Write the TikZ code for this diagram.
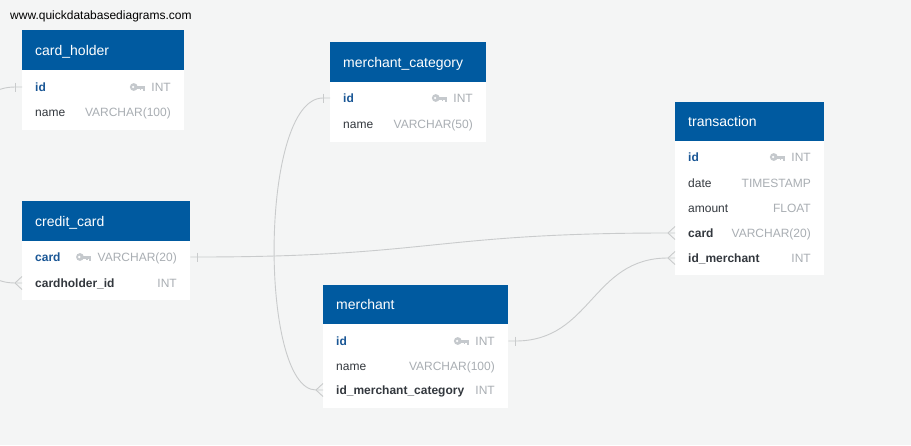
\documentclass[tikz,border=0pt]{standalone}
\usepackage{fontspec}
\setmainfont{Liberation Sans}
\usetikzlibrary{calc}
\definecolor{bgc}{HTML}{F4F5F5}
\definecolor{hdrc}{HTML}{005AA0}
\definecolor{pkc}{HTML}{1A5796}
\definecolor{fldc}{HTML}{33383E}
\definecolor{typc}{HTML}{A9AEB3}
\definecolor{keyc}{HTML}{C5C9CD}
\definecolor{relc}{HTML}{C9CBCC}
\tikzset{
  hdrbox/.style={fill=hdrc, draw=none, inner sep=0pt, anchor=north west},
  bodybox/.style={fill=white, draw=none, inner sep=0pt, anchor=north west},
  hdrtxt/.style={anchor=west, inner sep=0pt, text=white, font=\fontsize{14}{16}\selectfont, text height=10pt, text depth=0pt},
  fname/.style={anchor=west, inner sep=0pt, text=fldc, font=\fontsize{12}{14}\selectfont, text height=8.6pt, text depth=0pt},
  pkname/.style={fname, text=pkc, font=\fontsize{12}{14}\selectfont\bfseries},
  fkname/.style={fname, font=\fontsize{12}{14}\selectfont\bfseries},
  ftype/.style={anchor=east, inner sep=0pt, text=typc, font=\fontsize{12}{14}\selectfont, text height=8.6pt, text depth=0pt},
  rel/.style={draw=relc, line width=0.9pt},
  keyicon/.pic={
    \fill[keyc] (-11.5,0) circle (3.9);
    \fill[keyc] (-9,-1.5) rectangle (0,1.5);
    \fill[keyc] (-2.6,1.5) rectangle (-0.4,3.5);
    \fill[keyc] (-5.6,1.5) rectangle (-3.8,3.0);
    \fill[white] (-12.2,0) circle (1.3);
  }
}
\begin{document}
\begin{tikzpicture}[x=1pt,y=-1pt]
\useasboundingbox (0,0) rectangle (911,445);
\fill[bgc] (0,0) rectangle (911,445);

\node[anchor=west, inner sep=0pt, font=\fontsize{12}{14}\selectfont, text height=8.6pt, text depth=0pt] (site) at (10,15.5) {www.quickdatabasediagrams.com};

% card_holder
\node[hdrbox, minimum width=162pt, minimum height=40pt] (ch-h) at (22,30) {};
\node[bodybox, minimum width=162pt, minimum height=60pt] (ch-b) at (22,70) {};
\node[hdrtxt] (ch-title) at (35,50) {card\_holder};
\node[pkname] (ch-id) at (35,87) {id};
\node[ftype] (ch-id-t) at (171,87) {INT};
\pic at ([xshift=-6pt]ch-id-t.west) {keyicon};
\node[fname] (ch-name) at (35,112) {name};
\node[ftype] (ch-name-t) at (171,112) {VARCHAR(100)};

% credit_card
\node[hdrbox, minimum width=168pt, minimum height=40pt] (cc-h) at (22,201) {};
\node[bodybox, minimum width=168pt, minimum height=59pt] (cc-b) at (22,241) {};
\node[hdrtxt] (cc-title) at (35,221) {credit\_card};
\node[pkname] (cc-card) at (35,257) {card};
\node[ftype] (cc-card-t) at (177,257) {VARCHAR(20)};
\pic at ([xshift=-6pt]cc-card-t.west) {keyicon};
\node[fkname] (cc-hid) at (35,283) {cardholder\_id};
\node[ftype] (cc-hid-t) at (177,283) {INT};

% merchant_category
\node[hdrbox, minimum width=156pt, minimum height=40pt] (mc-h) at (330,42) {};
\node[bodybox, minimum width=156pt, minimum height=60pt] (mc-b) at (330,82) {};
\node[hdrtxt] (mc-title) at (343,62) {merchant\_category};
\node[pkname] (mc-id) at (343,98) {id};
\node[ftype] (mc-id-t) at (473,98) {INT};
\pic at ([xshift=-6pt]mc-id-t.west) {keyicon};
\node[fname] (mc-name) at (343,124) {name};
\node[ftype] (mc-name-t) at (473,124) {VARCHAR(50)};

% merchant
\node[hdrbox, minimum width=185pt, minimum height=39pt] (m-h) at (323,285) {};
\node[bodybox, minimum width=185pt, minimum height=84pt] (m-b) at (323,324) {};
\node[hdrtxt] (m-title) at (336,304.5) {merchant};
\node[pkname] (m-id) at (336,341) {id};
\node[ftype] (m-id-t) at (495,341) {INT};
\pic at ([xshift=-6pt]m-id-t.west) {keyicon};
\node[fname] (m-name) at (336,366) {name};
\node[ftype] (m-name-t) at (495,366) {VARCHAR(100)};
\node[fkname] (m-mcid) at (336,390) {id\_merchant\_category};
\node[ftype] (m-mcid-t) at (495,390) {INT};

% transaction
\node[hdrbox, minimum width=149pt, minimum height=39pt] (t-h) at (675,102) {};
\node[bodybox, minimum width=149pt, minimum height=134pt] (t-b) at (675,141) {};
\node[hdrtxt] (t-title) at (688,121.5) {transaction};
\node[pkname] (t-id) at (688,157) {id};
\node[ftype] (t-id-t) at (811,157) {INT};
\pic at ([xshift=-6pt]t-id-t.west) {keyicon};
\node[fname] (t-date) at (688,183) {date};
\node[ftype] (t-date-t) at (811,183) {TIMESTAMP};
\node[fname] (t-amount) at (688,208) {amount};
\node[ftype] (t-amount-t) at (811,208) {FLOAT};
\node[fkname] (t-card) at (688,233) {card};
\node[ftype] (t-card-t) at (811,233) {VARCHAR(20)};
\node[fkname] (t-mid) at (688,258) {id\_merchant};
\node[ftype] (t-mid-t) at (811,258) {INT};

% connector end points on table edges
\coordinate (ch-id-L) at (ch-b.west |- ch-id);
\coordinate (cc-hid-L) at (cc-b.west |- cc-hid);
\coordinate (cc-card-R) at (cc-b.east |- cc-card);
\coordinate (mc-id-L) at (mc-b.west |- mc-id);
\coordinate (m-mcid-L) at (m-b.west |- m-mcid);
\coordinate (m-id-R) at (m-b.east |- m-id);
\coordinate (t-card-L) at (t-b.west |- t-card);
\coordinate (t-mid-L) at (t-b.west |- t-mid);

% card_holder.id -< credit_card.cardholder_id
\draw[rel] (ch-id-L) -- ([xshift=-7pt]ch-id-L)
  .. controls ([xshift=-90pt]ch-id-L) and ([xshift=-90pt]cc-hid-L) .. ([xshift=-7pt]cc-hid-L) -- (cc-hid-L);
\draw[rel] ([xshift=-7pt,yshift=4.5pt]ch-id-L) -- ([xshift=-7pt,yshift=-4.5pt]ch-id-L);
\draw[rel] ([xshift=-7pt]cc-hid-L) -- ([yshift=6.5pt]cc-hid-L) ([xshift=-7pt]cc-hid-L) -- ([yshift=-6.5pt]cc-hid-L);

% merchant_category.id -< merchant.id_merchant_category
\draw[rel] (mc-id-L) -- ([xshift=-7pt]mc-id-L)
  .. controls ([xshift=-71pt]mc-id-L) and ([xshift=-64pt]m-mcid-L) .. ([xshift=-7pt]m-mcid-L) -- (m-mcid-L);
\draw[rel] ([xshift=-7pt,yshift=4.5pt]mc-id-L) -- ([xshift=-7pt,yshift=-4.5pt]mc-id-L);
\draw[rel] ([xshift=-7pt]m-mcid-L) -- ([yshift=6.5pt]m-mcid-L) ([xshift=-7pt]m-mcid-L) -- ([yshift=-6.5pt]m-mcid-L);

% credit_card.card -< transaction.card
\coordinate (c3m) at ($(cc-card-R)!0.5!(t-card-L)$);
\draw[rel] (cc-card-R) -- ([xshift=7pt]cc-card-R)
  .. controls (c3m |- cc-card-R) and (c3m |- t-card-L) .. ([xshift=-7pt]t-card-L) -- (t-card-L);
\draw[rel] ([xshift=7pt,yshift=4.5pt]cc-card-R) -- ([xshift=7pt,yshift=-4.5pt]cc-card-R);
\draw[rel] ([xshift=-7pt]t-card-L) -- ([yshift=6.5pt]t-card-L) ([xshift=-7pt]t-card-L) -- ([yshift=-6.5pt]t-card-L);

% merchant.id -< transaction.id_merchant
\coordinate (c4m) at ($(m-id-R)!0.5!(t-mid-L)$);
\draw[rel] (m-id-R) -- ([xshift=7pt]m-id-R)
  .. controls (c4m |- m-id-R) and (c4m |- t-mid-L) .. ([xshift=-7pt]t-mid-L) -- (t-mid-L);
\draw[rel] ([xshift=7pt,yshift=4.5pt]m-id-R) -- ([xshift=7pt,yshift=-4.5pt]m-id-R);
\draw[rel] ([xshift=-7pt]t-mid-L) -- ([yshift=6.5pt]t-mid-L) ([xshift=-7pt]t-mid-L) -- ([yshift=-6.5pt]t-mid-L);
\end{tikzpicture}
\end{document}
